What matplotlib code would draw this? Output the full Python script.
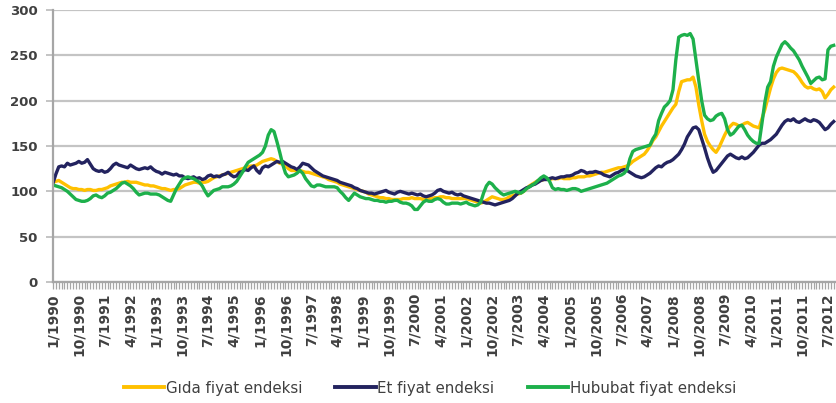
import matplotlib
matplotlib.use("Agg")
import matplotlib.pyplot as plt
from matplotlib.ticker import MultipleLocator, FixedLocator

# Monthly categories 1/1990 .. 9/2012
categories = [f"{m}/{y}" for y in range(1990, 2013) for m in range(1, 13)][:273]

tick_labels = ["1/1990", "10/1990", "7/1991", "4/1992", "1/1993", "10/1993", "7/1994",
               "4/1995", "1/1996", "10/1996", "7/1997", "4/1998", "1/1999", "10/1999",
               "7/2000", "4/2001", "1/2002", "10/2002", "7/2003", "4/2004", "1/2005",
               "10/2005", "7/2006", "4/2007", "1/2008", "10/2008", "7/2009", "4/2010",
               "1/2011", "10/2011", "7/2012"]

gida = [
    110, 111, 112, 110, 108, 106, 104, 103, 103, 102, 102, 101,  # 1990
    102, 102, 101, 101, 102, 102, 103, 104, 106, 107, 108, 109,  # 1991
    110, 110, 111, 110, 110, 110, 109, 108, 107, 107, 106, 106,  # 1992
    105, 104, 103, 103, 102, 101, 102, 102, 103, 105, 107, 108,  # 1993
    109, 110, 110, 109, 110, 110, 111, 113, 115, 116, 117, 118,  # 1994
    119, 120, 121, 122, 123, 124, 125, 126, 127, 128, 128, 129,  # 1995
    131, 133, 134, 135, 136, 135, 133, 131, 130, 128, 125, 123,  # 1996
    123, 123, 123, 122, 121, 121, 120, 119, 118, 117, 116, 115,  # 1997
    113, 112, 111, 110, 108, 107, 106, 105, 104, 103, 102, 101,  # 1998
    100, 99, 97, 96, 95, 94, 93, 93, 92, 92, 91, 91,             # 1999
    91, 91, 92, 92, 92, 93, 92, 92, 92, 91, 91, 92,              # 2000
    92, 93, 93, 94, 94, 93, 93, 92, 92, 92, 92, 92,              # 2001
    92, 91, 90, 89, 88, 87, 88, 90, 92, 94, 93, 92,              # 2002
    91, 91, 92, 94, 95, 96, 97, 98, 100, 103, 106, 108,          # 2003
    110, 112, 112, 113, 114, 113, 114, 114, 114, 115, 114, 114,  # 2004
    114, 115, 115, 116, 116, 116, 117, 117, 118, 119, 120, 121,  # 2005
    121, 122, 123, 124, 125, 126, 126, 127, 128, 130, 133, 135,  # 2006
    137, 139, 141, 145, 150, 156, 160, 166, 172, 177, 182, 187,  # 2007
    192, 196, 210, 221, 222, 223, 223, 226, 215, 195, 178, 163,  # 2008
    155, 150, 146, 143, 148, 155, 162, 168, 172, 175, 174, 172,  # 2009
    173, 175, 176, 174, 172, 171, 170, 180, 190, 202, 214, 224,  # 2010
    231, 235, 236, 235, 234, 233, 232, 229, 225, 220, 216, 214,  # 2011
    215, 213, 212, 213, 210, 203, 207, 212, 215,                 # 2012
]

et = [
    109, 119, 127, 128, 127, 131, 129, 130, 131, 133, 131, 132,  # 1990
    135, 130, 125, 123, 122, 123, 121, 122, 125, 129, 131, 129,  # 1991
    128, 127, 126, 129, 127, 125, 124, 125, 126, 125, 127, 124,  # 1992
    122, 121, 119, 121, 120, 119, 118, 119, 117, 117, 115, 114,  # 1993
    115, 116, 114, 115, 113, 114, 117, 118, 116, 117, 116, 118,  # 1994
    119, 121, 118, 116, 117, 121, 122, 124, 123, 126, 128, 123,  # 1995
    120, 126, 128, 127, 129, 131, 133, 132, 133, 131, 129, 127,  # 1996
    126, 124, 127, 131, 130, 129, 126, 123, 121, 119, 117, 116,  # 1997
    115, 114, 113, 112, 110, 109, 108, 107, 106, 104, 103, 101,  # 1998
    100, 99, 98, 98, 97, 98, 99, 100, 101, 99, 98, 97,           # 1999
    99, 100, 99, 98, 97, 98, 97, 96, 97, 95, 94, 95,             # 2000
    96, 98, 101, 102, 100, 99, 98, 99, 97, 96, 97, 95,           # 2001
    94, 93, 92, 91, 90, 89, 88, 87, 87, 86, 85, 86,              # 2002
    87, 88, 89, 90, 92, 95, 98, 100, 102, 104, 105, 107,         # 2003
    108, 110, 112, 113, 113, 114, 115, 114, 115, 116, 116, 117,  # 2004
    117, 118, 120, 121, 123, 122, 120, 121, 121, 122, 121, 120,  # 2005
    118, 117, 116, 118, 120, 121, 123, 124, 123, 121, 119, 117,  # 2006
    116, 115, 116, 118, 120, 123, 126, 128, 127, 130, 132, 133,  # 2007
    135, 138, 141, 146, 152, 160, 165, 170, 171, 168, 158, 148,  # 2008
    137, 128, 121, 123, 127, 131, 135, 139, 141, 139, 137, 136,  # 2009
    138, 136, 137, 140, 143, 147, 151, 153, 153, 155, 157, 160,  # 2010
    163, 168, 173, 177, 179, 178, 180, 177, 176, 178, 180, 178,  # 2011
    177, 179, 178, 176, 172, 168, 170, 174, 177,                 # 2012
]

hububat = [
    107, 106, 105, 104, 102, 100, 97, 94, 91, 90, 89, 89,        # 1990
    90, 92, 95, 96, 94, 93, 95, 98, 99, 101, 103, 106,           # 1991
    109, 110, 108, 106, 103, 99, 96, 97, 98, 98, 97, 97,         # 1992
    97, 96, 94, 92, 90, 89, 96, 103, 108, 113, 115, 116,         # 1993
    115, 114, 112, 110, 106, 100, 95, 98, 101, 102, 103, 105,    # 1994
    105, 105, 106, 108, 111, 116, 121, 127, 132, 134, 136, 138,  # 1995
    140, 143, 150, 162, 168, 166, 155, 143, 130, 120, 116, 117,  # 1996
    118, 120, 123, 120, 114, 110, 106, 105, 107, 107, 106, 105,  # 1997
    105, 105, 105, 104, 100, 97, 93, 90, 94, 98, 96, 94,         # 1998
    93, 92, 92, 91, 90, 90, 89, 89, 88, 89, 89, 90,              # 1999
    90, 88, 87, 87, 86, 84, 80, 80, 84, 88, 90, 89,              # 2000
    89, 91, 92, 91, 88, 86, 86, 87, 87, 87, 86, 87,              # 2001
    88, 86, 85, 84, 85, 88, 98, 106, 110, 108, 104, 101,         # 2002
    98, 96, 97, 98, 99, 100, 99, 98, 100, 103, 105, 107,         # 2003
    109, 112, 115, 117, 115, 111, 104, 102, 103, 102, 102, 101,  # 2004
    102, 103, 103, 102, 100, 101, 102, 103, 104, 105, 106, 107,  # 2005
    108, 109, 111, 113, 115, 117, 118, 120, 124, 136, 144, 146,  # 2006
    147, 148, 149, 150, 151, 158, 163, 178, 186, 193, 196, 200,  # 2007
    212, 245, 270, 272, 273, 272, 274, 268, 245, 222, 200, 184,  # 2008
    180, 178, 179, 183, 185, 186, 180, 168, 162, 164, 168, 172,  # 2009
    173, 168, 162, 158, 155, 153, 153, 175, 198, 215, 221, 238,  # 2010
    248, 255, 262, 265, 262, 258, 255, 250, 245, 238, 232, 226,  # 2011
    219, 222, 225, 226, 223, 224, 256, 260, 261,                 # 2012
]

series_names = ["Gıda fiyat endeksi", "Et fiyat endeksi", "Hububat fiyat endeksi"]
colors = ["#FFC000", "#23235F", "#1DB04B"]

W, H = 836, 403
fig = plt.figure(figsize=(W / 100, H / 100), dpi=100)
ax = fig.add_axes([53 / W, 1 - 282 / H, (W - 53) / W, (282 - 10) / H])

x = list(range(len(categories)))
for vals, name, c in zip([gida, et, hububat], series_names, colors):
    ax.plot(x[:len(vals)], vals, color=c, lw=2.4, label=name, solid_joinstyle="round")

ax.set_ylim(0, 300)
ax.set_xlim(0, 272.8)
ax.yaxis.set_major_locator(MultipleLocator(50))
ax.grid(axis="y", color="#C4C4C4", lw=1.6)
ax.set_axisbelow(True)

tick_pos = [categories.index(t) for t in tick_labels]
ax.xaxis.set_major_locator(FixedLocator(tick_pos))
ax.set_xticklabels(tick_labels, rotation=90)
ax.xaxis.set_minor_locator(FixedLocator(x))

for s in ["top", "right"]:
    ax.spines[s].set_visible(False)
for s in ["left", "bottom"]:
    ax.spines[s].set_color("#A6A6A6")
    ax.spines[s].set_linewidth(1.6)

ax.tick_params(axis="x", which="both", length=5, width=0.9, color="#A6A6A6",
               labelsize=10, labelcolor="#404040", pad=3)
ax.tick_params(axis="y", which="major", length=5, width=1.4, color="#C4C4C4",
               labelsize=9.5, labelcolor="#404040", pad=6)
for lab in ax.get_xticklabels() + ax.get_yticklabels():
    lab.set_fontweight("bold")

leg = fig.legend(loc="center", bbox_to_anchor=(430 / W, 1 - 388 / H), ncol=3,
                 frameon=False, fontsize=10.8, handlelength=2.67, handletextpad=0.13,
                 columnspacing=2.2, borderpad=0.2)
for t in leg.get_texts():
    t.set_color("#404040")
for l in leg.get_lines():
    l.set_linewidth(2.8)

fig.savefig("out.png", dpi=100)
